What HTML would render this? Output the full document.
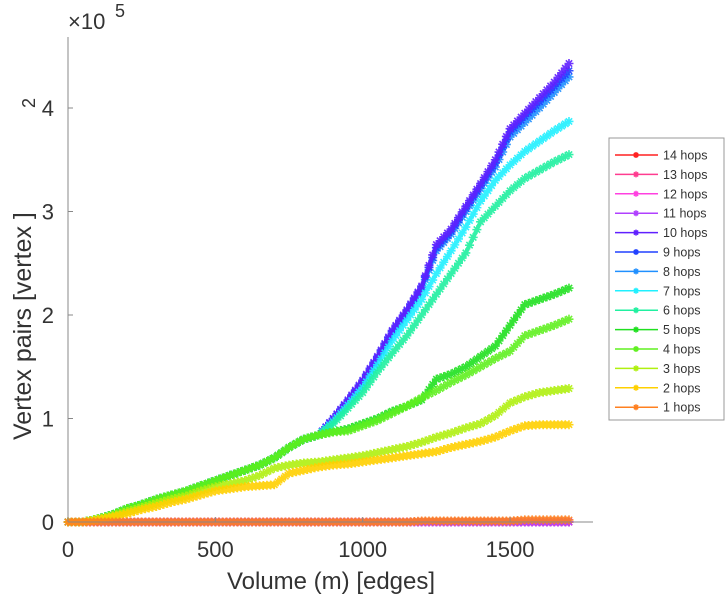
<!DOCTYPE html>
<html><head><meta charset="utf-8"><style>
body{margin:0;background:#fff;}
svg text{font-family:"Liberation Sans",sans-serif;fill:#333;}
</style></head><body>
<svg id="chart" width="728" height="600" viewBox="0 0 728 600" xmlns="http://www.w3.org/2000/svg">
<g id="plot"></g>
<g id="axes"></g>
<g id="legend"></g>
</svg>
<script>
const xVals=[0,50,100,150,200,250,300,350,400,450,500,550,600,650,700,750,800,850,900,950,1000,1050,1100,1150,1200,1250,1300,1350,1400,1450,1500,1550,1600,1650,1700];
const early=[0,0,3,7,13,17,22,26,30,35,40,45,50,55,62,72,80,84];
const s1=[0,0,0,0,0,0,0,0,0,0,0,0,0,0,0,0,0,0,0,0,0,0,0,0,1,1,1,1,1,1,1,2,2,2,2];
const s2=[0,0,2,5,8,12,15,19,22,26,30,32,34,35,36,47,50,53,55,56,58,60,62,64,66,68,72,75,78,82,88,93,94,94,94];
const s3=[0,0,3,6,10,14,18,22,25,30,34,37,40,45,52,55,57,58,60,62,64,67,70,73,77,82,86,91,95,103,115,121,125,127,129];
const s4=early.concat([87,88,93,98,105,112,120,127,135,142,150,158,165,180,185,190,196]);
const s5=early.concat([87,90,95,100,107,112,118,138,143,150,160,170,190,210,215,220,226]);
const s6=early.concat([95,110,125,145,163,180,200,220,240,260,290,305,320,332,340,348,355]);
const s7=early.concat([97,113,130,152,175,195,215,240,262,285,310,330,345,358,368,378,387]);
const s8=early.concat([99,116,135,158,182,202,225,262,278,300,322,343,372,386,400,415,430]);
const s9=early.concat([100,117,136,159,184,204,227,265,281,303,325,347,377,392,406,421,436]);
const s10=early.concat([100,118,137,160,185,205,228,268,283,305,327,350,380,395,410,425,443]);
const zeros=xVals.map(()=>0);
const seriesNames=["14 hops","13 hops","12 hops","11 hops","10 hops","9 hops","8 hops","7 hops","6 hops","5 hops","4 hops","3 hops","2 hops","1 hops"];
const seriesColors=["#ff2020","#ff3c90","#ff40e0","#b040ff","#6020ff","#2040ff","#2090ff","#20f0ff","#20f0a0","#20e020","#60f020","#b0f010","#ffd000","#ff8020"];
const seriesData=[zeros,zeros,zeros,zeros,s10,s9,s8,s7,s6,s5,s4,s3,s2,s1];
const drawOrder=[0,1,2,3,6,5,4,7,8,9,10,11,12,13];
const yTicks=[0,1,2,3,4];
const xTicks=[0,500,1000,1500];

const NS="http://www.w3.org/2000/svg";
const X=v=>68+v*0.2947;
const Y=v=>522-v*1.035;
function mk(t,a,p){const e=document.createElementNS(NS,t);for(const k in a)e.setAttribute(k,a[k]);p.appendChild(e);return e;}
const plot=document.getElementById('plot'),axes=document.getElementById('axes'),leg=document.getElementById('legend');
function star(g,x,y,c,r,w){
  mk('path',{d:`M${x-r},${y}H${x+r}M${x},${y-r}V${y+r}M${x-r*0.7},${y-r*0.7}L${x+r*0.7},${y+r*0.7}M${x-r*0.7},${y+r*0.7}L${x+r*0.7},${y-r*0.7}`,stroke:c,'stroke-width':w||1.6,fill:'none'},g);
}
drawOrder.forEach(i=>{
  const d=seriesData[i],c=seriesColors[i];
  const g=mk('g',{opacity:0.9},plot);
  
  
  mk('polyline',{points:d.map((v,j)=>X(xVals[j])+','+Y(v)).join(' '),stroke:c,'stroke-width':4,fill:'none','stroke-linejoin':'round'},g);
  d.forEach((v,j)=>{star(g,X(xVals[j]),Y(v),c,4.5);
    if(j<d.length-1){for(let k=1;k<4;k++){const f=k/4;star(g,X(xVals[j]+(xVals[j+1]-xVals[j])*f),Y(v+(d[j+1]-v)*f),c,4.5);}}
  });
});
const yl=mk('line',{x1:68,y1:37,x2:68,y2:522,stroke:'#888','stroke-width':1},axes);

const xl=mk('line',{x1:68,y1:522,x2:593,y2:522,stroke:'#888','stroke-width':1},axes);

yTicks.forEach(t=>{const y=Y(t*100);
  mk('line',{x1:68,y1:y,x2:73,y2:y,stroke:'#888'},axes);
  const tx=mk('text',{x:54,y:y+8,'font-size':22,'text-anchor':'end'},axes);tx.textContent=t;
  });
xTicks.forEach(t=>{const x=X(t);
  mk('line',{x1:x,y1:522,x2:x,y2:517,stroke:'#888'},axes);
  const tx=mk('text',{x:x,y:557,'font-size':22,'text-anchor':'middle'},axes);tx.textContent=t;
  });
const xt=mk('text',{x:331,y:589,'font-size':24,'text-anchor':'middle'},axes);xt.textContent='Volume (m) [edges]';

const yt=mk('text',{transform:'translate(31,440) rotate(-90)','font-size':25},axes);yt.textContent='Vertex pairs [vertex ]';

const ys=mk('text',{transform:'translate(35,103) rotate(-90)','font-size':18,'text-anchor':'middle'},axes);ys.textContent='2';

const ex=mk('text',{x:68,y:29,'font-size':22},axes);ex.textContent='×10';

const ex5=mk('text',{x:115,y:17,'font-size':18},axes);ex5.textContent='5';

mk('rect',{x:609,y:138,width:115,height:282,fill:'#fff',stroke:'#999','stroke-width':1},leg);
seriesNames.forEach((n,i)=>{const y=155+i*19.4,c=seriesColors[i];
  const g=mk('g',{},leg);
  
  
  mk('line',{x1:615,y1:y,x2:658,y2:y,stroke:c,'stroke-width':1.5},g);
  star(g,636,y,c,3,1.5);
  const t=mk('text',{x:663,y:y+4.5,'font-size':12.5},g);t.textContent=n;
});
</script>
</body></html>
